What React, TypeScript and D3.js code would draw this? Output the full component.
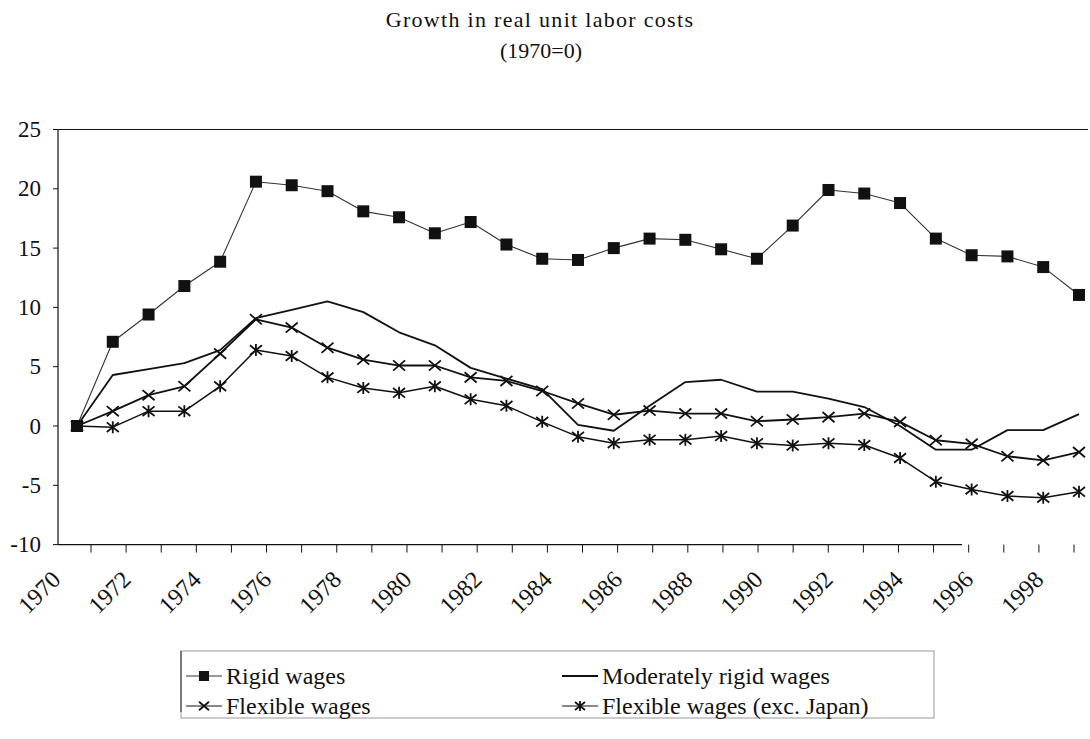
import React from "react";
import * as d3 from "d3";

const years = [1970, 1971, 1972, 1973, 1974, 1975, 1976, 1977, 1978, 1979, 1980, 1981, 1982, 1983, 1984, 1985, 1986, 1987, 1988, 1989, 1990, 1991, 1992, 1993, 1994, 1995, 1996, 1997, 1998];
const rigid = [0, 7.1, 9.4, 11.8, 13.85, 20.6, 20.3, 19.8, 18.1, 17.6, 16.25, 17.2, 15.3, 14.1, 14.0, 15.0, 15.8, 15.7, 14.9, 14.1, 16.9, 19.9, 19.6, 18.8, 15.8, 14.4, 14.3, 13.4, 11.05];
const moderate = [0, 4.3, 4.8, 5.3, 6.4, 9.1, 9.8, 10.5, 9.6, 7.9, 6.8, 4.9, 4.0, 3.1, 0.1, -0.4, 1.7, 3.7, 3.9, 2.9, 2.9, 2.3, 1.6, 0, -2.0, -2.0, -0.35, -0.35, 1.0];
const flexible = [0, 1.25, 2.6, 3.35, 6.1, 9.0, 8.3, 6.6, 5.6, 5.1, 5.1, 4.1, 3.8, 2.95, 1.9, 0.95, 1.3, 1.05, 1.05, 0.4, 0.55, 0.75, 1.05, 0.35, -1.2, -1.5, -2.55, -2.9, -2.2];
const flexibleExJapan = [0, -0.1, 1.25, 1.25, 3.35, 6.4, 5.9, 4.1, 3.2, 2.8, 3.35, 2.25, 1.7, 0.35, -0.9, -1.45, -1.15, -1.15, -0.85, -1.45, -1.65, -1.45, -1.6, -2.7, -4.7, -5.35, -5.9, -6.05, -5.55];
const yTicks = [-10, -5, 0, 5, 10, 15, 20, 25];
const xTickLabels = [1970, 1972, 1974, 1976, 1978, 1980, 1982, 1984, 1986, 1988, 1990, 1992, 1994, 1996, 1998];
const titleLines = ["Growth in real unit labor costs", "(1970=0)"];
const legendNames = ["Rigid wages", "Moderately rigid wages", "Flexible wages", "Flexible wages (exc. Japan)"];

const FONT = "Liberation Serif, Times New Roman, DejaVu Serif, serif";
const INK = "#111";

function Marker({ kind, cx, cy, s = 6 }: { kind: string; cx: number; cy: number; s?: number }) {
  if (kind === "square") {
    return <rect x={cx - s} y={cy - s} width={2 * s} height={2 * s} fill={INK} />;
  }
  if (kind === "cross") {
    return (
      <path
        d={`M${cx - s},${cy - s * 0.85}L${cx + s},${cy + s * 0.85}M${cx - s},${cy + s * 0.85}L${cx + s},${cy - s * 0.85}`}
        stroke={INK}
        strokeWidth={1.8}
        fill="none"
      />
    );
  }
  if (kind === "star") {
    return (
      <path
        d={`M${cx - s},${cy - s * 0.8}L${cx + s},${cy + s * 0.8}M${cx - s},${cy + s * 0.8}L${cx + s},${cy - s * 0.8}M${cx},${cy - s}L${cx},${cy + s}`}
        stroke={INK}
        strokeWidth={1.8}
        fill="none"
      />
    );
  }
  return null;
}

export default function App() {
  const x = d3.scaleLinear().domain([1970, 1998]).range([77, 1079]);
  const axisX = d3.scaleLinear().domain([1970, 1998]).range([91, 1074]);
  const y = d3.scaleLinear().domain([-10, 25]).range([544.6, 129.5]);

  const line = d3
    .line<number>()
    .x((_, i) => x(years[i]))
    .y((d) => y(d));

  const series = [
    { name: legendNames[0], data: rigid, marker: "square", width: 1.1, color: "#333" },
    { name: legendNames[1], data: moderate, marker: "none", width: 1.8, color: INK },
    { name: legendNames[2], data: flexible, marker: "cross", width: 1.8, color: INK },
    { name: legendNames[3], data: flexibleExJapan, marker: "star", width: 1.5, color: INK },
  ];

  const left = 58;
  const bottom = y(-10);
  const txt = { fontFamily: FONT };

  const legendItems = [
    { s: series[0], lx: 186, ly: 676 },
    { s: series[1], lx: 562, ly: 676 },
    { s: series[2], lx: 186, ly: 706 },
    { s: series[3], lx: 562, ly: 706 },
  ];

  return (
    <svg width={1090} height={739} style={{ position: "absolute", left: 0, top: 0, background: "#fff" }}>
      <rect x={0} y={0} width={1090} height={739} fill="#fff" />
      {/* Title */}
      <text x={540} y={27} textAnchor="middle" fontSize={22} letterSpacing={1.3} fill={INK} style={txt}>
        {titleLines[0]}
      </text>
      <text x={541} y={58} textAnchor="middle" fontSize={22} fill={INK} style={txt}>
        {titleLines[1]}
      </text>

      {/* Frame top line */}
      <line x1={left} x2={1088} y1={y(25)} y2={y(25)} stroke={INK} strokeWidth={1.2} />
      {/* Y axis */}
      <line x1={left} x2={left} y1={y(25)} y2={bottom} stroke={INK} strokeWidth={1.2} />
      {yTicks.map((t) => (
        <g key={t}>
          <line x1={left - 5} x2={left} y1={y(t)} y2={y(t)} stroke={INK} strokeWidth={1} />
          <text x={41} y={y(t)} textAnchor="end" dominantBaseline="central" fontSize={23} fill={INK} style={txt}>
            {t}
          </text>
        </g>
      ))}

      {/* X axis */}
      <line x1={left} x2={962} y1={bottom} y2={bottom} stroke={INK} strokeWidth={1.2} />
      {years.map((yr) => (
        <line key={yr} x1={axisX(yr)} x2={axisX(yr)} y1={bottom} y2={bottom + 8} stroke={INK} strokeWidth={1} />
      ))}
      {xTickLabels.map((yr) => (
        <text
          key={yr}
          transform={`translate(${axisX(yr) - 29},${581}) rotate(-45)`}
          textAnchor="end"
          fontSize={24}
          fill={INK}
          style={txt}
        >
          {yr}
        </text>
      ))}

      {/* Series */}
      {series.map((s) => (
        <g key={s.name}>
          <path d={line(s.data) || ""} fill="none" stroke={s.color} strokeWidth={s.width} strokeLinejoin="round" />
          {s.marker !== "none" &&
            s.data.map((v, i) => <Marker key={i} kind={s.marker} cx={x(years[i])} cy={y(v)} />)}
        </g>
      ))}

      {/* Legend */}
      <rect x={181} y={651} width={753} height={67} fill="none" stroke="#999" strokeWidth={1} />
      <line x1={181} x2={181} y1={651} y2={712} stroke="#444" strokeWidth={1.2} />
      {legendItems.map(({ s, lx, ly }) => (
        <g key={s.name}>
          <line x1={lx} x2={lx + 36} y1={ly} y2={ly} stroke={s.color} strokeWidth={s.marker === "none" ? 1.8 : 1.2} />
          {s.marker !== "none" && <Marker kind={s.marker} cx={lx + 18} cy={ly} s={5} />}
          <text x={lx + 40} y={ly} dominantBaseline="central" fontSize={24} fill={INK} style={txt}>
            {s.name}
          </text>
        </g>
      ))}
    </svg>
  );
}
